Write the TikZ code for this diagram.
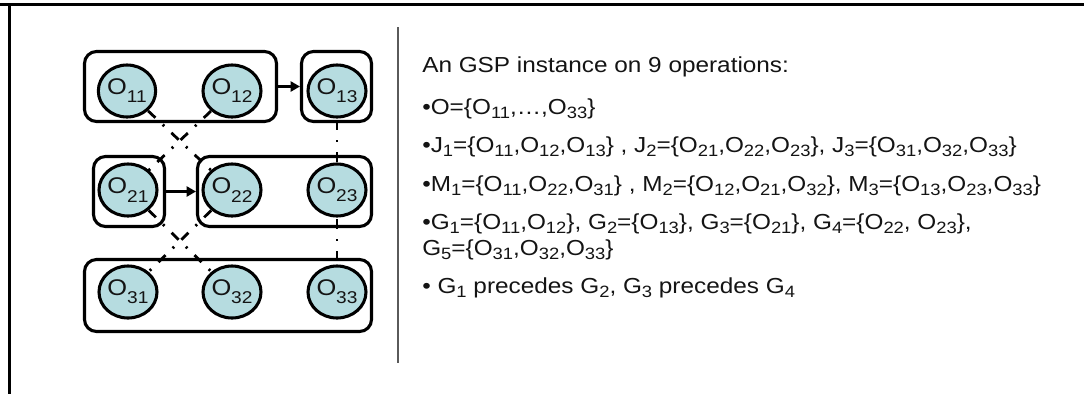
\documentclass[tikz,border=0pt]{standalone}
\usepackage{fontspec}
\setmainfont{Liberation Sans}
\usepackage{graphicx}
\usetikzlibrary{arrows.meta,shapes.geometric}
\definecolor{opfill}{RGB}{182,220,224}
\definecolor{txt}{RGB}{20,20,20}
\definecolor{sep}{RGB}{90,90,90}
\newcommand\sbs[1]{\raisebox{-0.22em}{\fontsize{12.3}{12.3}\selectfont #1}}
\newcommand\csb[1]{\raisebox{-0.36em}{\fontsize{12.8}{12.8}\selectfont #1}}
\newcommand\tO[1]{O\sbs{#1}}
\newcommand\wide[1]{\scalebox{1.12}[1]{#1}}
\pgfdeclarelayer{bg}
\pgfsetlayers{bg,main}
\begin{document}
\begin{tikzpicture}[x=0.75pt,y=-0.75pt,
  op/.style={ellipse,draw=black,line width=2.3pt,fill=opfill,inner sep=0pt,
    minimum width=43pt,minimum height=39pt,text=txt,font=\fontsize{17}{17}\selectfont},
  grp/.style={draw=black,line width=2.3pt,rounded corners=9pt,inner sep=0pt},
  prec/.style={line width=2.3pt,-{Triangle[length=7pt,width=7.5pt]}},
  disj/.style={line width=2.1pt,dash pattern=on 7.5pt off 7.5pt on 1.6pt off 7.4pt,dash phase=2.25pt},
  tx/.style={anchor=base west,inner sep=0pt,text=txt,font=\fontsize{16.3}{19}\selectfont}]
\useasboundingbox (0,0) rectangle (1084,394);
% frame
\draw[line width=2.25pt] (0,4) -- (1084,4);
\draw[line width=2.25pt] (9,4) -- (9,394);
% separator
\draw[sep,line width=0.9pt] (398,27) -- (398,363);
% operations
\node[op] (o11) at (127,91) {\wide{O\csb{11}}};
\node[op] (o12) at (232,91) {\wide{O\csb{12}}};
\node[op] (o13) at (337,91) {\wide{O\csb{13}}};
\node[op] (o21) at (128,190) {\wide{O\csb{21}}};
\node[op] (o22) at (232,190) {\wide{O\csb{22}}};
\node[op] (o23) at (337,190) {\wide{O\csb{23}}};
\node[op] (o31) at (128,292) {\wide{O\csb{31}}};
\node[op] (o32) at (232,292) {\wide{O\csb{32}}};
\node[op] (o33) at (337,292) {\wide{O\csb{33}}};
% groups
\node[grp,minimum width=144pt,minimum height=52.5pt] (g1) at (180.5,86.5) {};
\node[grp,minimum width=52.5pt,minimum height=52.5pt] (g2) at (336.5,86.5) {};
\node[grp,minimum width=53.25pt,minimum height=52.5pt] (g3) at (129,191.5) {};
\node[grp,minimum width=130.5pt,minimum height=52.5pt] (g4) at (284.5,191.5) {};
\node[grp,minimum width=215.25pt,minimum height=54pt] (g5) at (228,295.5) {};
% precedences
\draw[prec] (g1.east) -- (g2.west);
\draw[prec] (g3.east) -- (g4.west);
% machine (disjunctive) edges
\begin{pgfonlayer}{bg}
\draw[disj] (o11.center) -- (o22.center);
\draw[disj] (o12.center) -- (o21.center);
\draw[disj] (o21.center) -- (o32.center);
\draw[disj] (o22.center) -- (o31.center);
\draw[disj] (o13.center) -- (o23.center);
\draw[disj] (o23.center) -- (o33.center);
\end{pgfonlayer}
% text
\node[tx] (t1) at (422,72) {\wide{An GSP instance on 9 operations:}};
\node[tx] (t2) at (422,114) {\wide{•O=\{\tO{11},…,\tO{33}\}}};
\node[tx] (t3) at (422,152) {\wide{•J\sbs{1}=\{\tO{11},\tO{12},\tO{13}\} , J\sbs{2}=\{\tO{21},\tO{22},\tO{23}\}, J\sbs{3}=\{\tO{31},\tO{32},\tO{33}\}}};
\node[tx] (t4) at (422,191) {\wide{•M\sbs{1}=\{\tO{11},\tO{22},\tO{31}\} , M\sbs{2}=\{\tO{12},\tO{21},\tO{32}\}, M\sbs{3}=\{\tO{13},\tO{23},\tO{33}\}}};
\node[tx] (t5) at (422,229) {\wide{•G\sbs{1}=\{\tO{11},\tO{12}\}, G\sbs{2}=\{\tO{13}\}, G\sbs{3}=\{\tO{21}\}, G\sbs{4}=\{\tO{22}, \tO{23}\},}};
\node[tx] (t6) at (422,255) {\wide{G\sbs{5}=\{\tO{31},\tO{32},\tO{33}\}}};
\node[tx] (t7) at (422,293) {\wide{• G\sbs{1} precedes G\sbs{2}, G\sbs{3} precedes G\sbs{4}}};
\end{tikzpicture}
\end{document}
